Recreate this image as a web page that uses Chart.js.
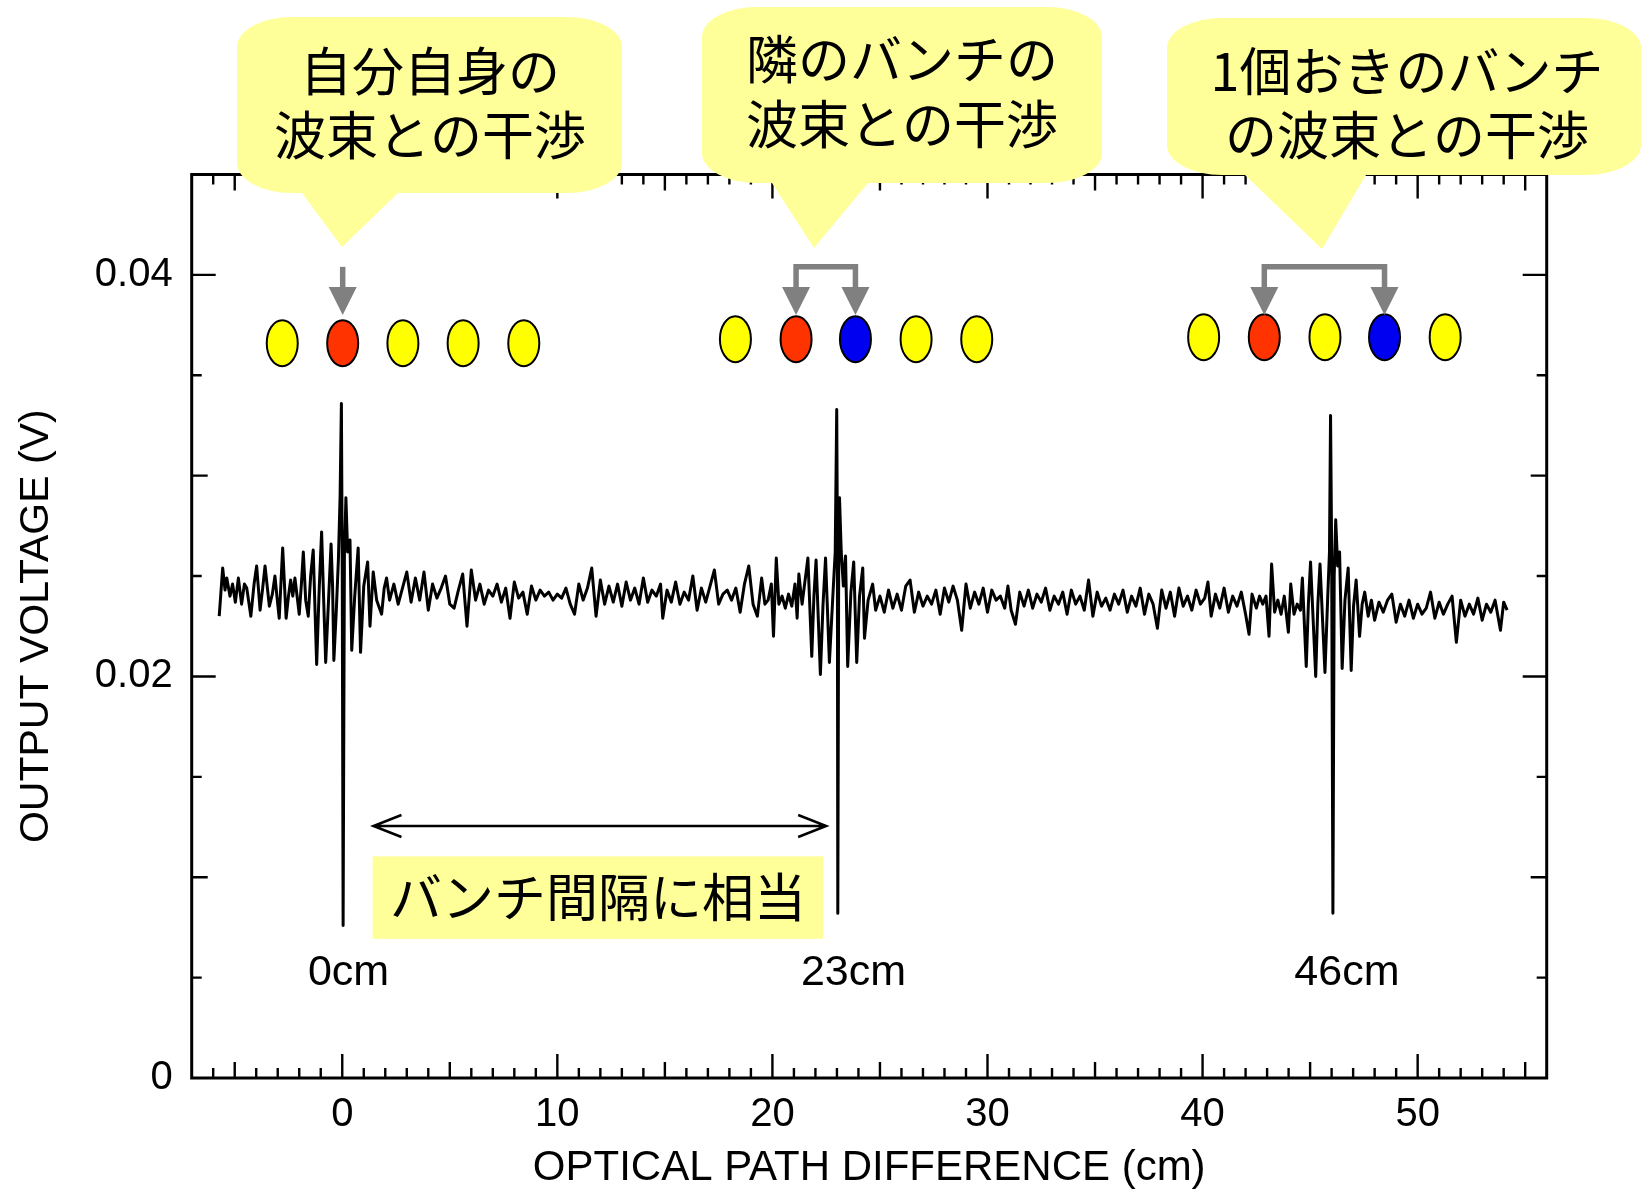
<!DOCTYPE html>
<html><head><meta charset="utf-8">
<script src="https://cdn.jsdelivr.net/npm/chart.js@4.4.1/dist/chart.umd.min.js"></script>
<style>html,body{margin:0;padding:0;background:#fff;}#wrap{width:1641px;height:1193px;}</style>
</head><body><div id="wrap"><canvas id="c" width="1641" height="1193"></canvas></div>
<script>
// ---- data ----
const opdCm = [
-5.72,-5.56,-5.45,-5.37,-5.22,-5.10,-4.97,-4.83,-4.68,-4.55,
-4.44,-4.25,-4.10,-3.98,-3.82,-3.70,-3.59,-3.39,-3.25,-3.13,
-3.02,-2.93,-2.77,-2.61,-2.50,-2.40,-2.30,-2.20,-2.00,-1.90,
-1.81,-1.70,-1.58,-1.47,-1.35,-1.19,-1.07,-0.96,-0.87,-0.77,
-0.65,-0.52,-0.45,-0.39,-0.28,-0.18,-0.10,-0.04,0.00,0.04,
0.10,0.17,0.25,0.36,0.44,0.58,0.74,0.85,1.00,1.18,
1.29,1.44,1.60,1.83,1.95,2.06,
2.2,2.4,2.6,2.8,3.0,3.2,3.4,3.6,3.8,4.0,
4.2,4.4,4.6,4.8,5.0,5.2,5.4,5.6,5.8,6.0,
6.2,6.4,6.6,6.8,7.0,7.2,7.4,7.6,7.8,8.0,
8.2,8.4,8.6,8.8,9.0,9.2,9.4,9.6,9.8,10.0,
10.2,10.4,10.6,10.8,11.0,11.2,11.4,11.6,11.8,12.0,
12.2,12.4,12.6,12.8,13.0,13.2,13.4,13.6,13.8,14.0,
14.2,14.4,14.6,14.8,14.9,15.1,15.3,15.5,15.7,15.9,
16.1,16.3,16.5,16.7,16.9,17.1,17.3,17.5,17.7,17.9,
18.1,18.3,18.5,18.7,18.9,19.1,19.3,19.5,19.65,
19.80,19.95,20.05,20.18,20.30,20.45,20.60,20.75,20.90,21.05,
21.15,21.23,21.38,21.52,21.65,21.83,21.93,22.03,22.23,22.35,
22.47,22.65,22.80,22.92,22.99,23.02,23.04,23.08,23.12,23.20,
23.30,23.40,23.50,23.65,23.78,23.92,24.05,24.20,24.28,24.45,
24.66,24.80,25.00,
25.2,25.4,25.6,25.8,26.0,26.2,26.4,26.6,26.8,27.0,
27.2,27.4,27.6,27.8,28.0,28.2,28.4,28.6,28.8,29.0,
29.2,29.4,29.6,29.8,30.0,30.2,30.4,30.6,30.8,30.95,
31.1,31.3,31.5,31.7,31.9,32.1,32.3,32.5,32.7,32.9,
33.1,33.3,33.5,33.7,33.9,34.1,34.3,34.5,34.7,34.9,
35.1,35.3,35.5,35.7,35.9,36.1,36.3,36.5,36.7,36.9,
37.1,37.3,37.5,37.7,37.9,38.1,38.3,38.5,38.7,38.9,
39.1,39.3,39.5,39.7,39.9,40.1,40.25,40.4,40.6,40.8,
41.0,41.2,41.4,41.6,41.8,42.0,42.16,42.3,42.5,42.65,
42.80,42.95,43.09,43.21,43.35,43.50,43.65,43.80,43.99,44.10,
44.25,44.40,44.55,44.64,44.82,44.92,45.02,45.26,45.36,45.46,
45.69,45.82,45.90,45.95,46.00,46.06,46.12,46.19,46.28,46.37,
46.49,46.62,46.77,46.91,47.02,47.14,47.30,47.42,47.54,47.70,
47.85,
48.0,48.2,48.4,48.6,48.8,49.0,49.2,49.4,49.6,49.8,
50.0,50.2,50.4,50.6,50.8,51.0,51.2,51.4,51.6,51.8,
52.0,52.2,52.4,52.6,52.8,53.0,53.2,53.4,53.6,53.85,
54.0,54.16
];
const outputVoltage = [
0.0230,0.0254,0.0243,0.0249,0.0240,0.0246,0.0237,0.0249,0.0236,0.0246,
0.0244,0.0230,0.0246,0.0255,0.0233,0.0244,0.0255,0.0235,0.0241,0.0250,
0.0238,0.0229,0.0264,0.0229,0.0240,0.0248,0.0240,0.0249,0.0231,0.0246,
0.0262,0.0238,0.0230,0.0250,0.0263,0.0206,0.0244,0.0272,0.0240,0.0207,
0.0235,0.0266,0.0245,0.0208,0.0232,0.0258,0.0290,0.0336,0.0250,0.0076,
0.0260,0.0289,0.0262,0.0268,0.0213,0.0240,0.0264,0.0212,0.0245,0.0257,
0.0225,0.0252,0.0238,0.0231,0.0244,0.0249,
0.0238,0.0246,0.0236,0.0244,0.0252,0.0237,0.0249,0.0238,0.0252,0.0233,
0.0246,0.0239,0.0244,0.0250,0.0236,0.0234,0.0243,0.0251,0.0225,0.0253,
0.0238,0.0246,0.0236,0.0243,0.0240,0.0246,0.0237,0.0244,0.0229,0.0247,
0.0239,0.0242,0.0231,0.0245,0.0238,0.0243,0.0240,0.0242,0.0238,0.0241,
0.0239,0.0244,0.0236,0.0231,0.0246,0.0238,0.0244,0.0254,0.0230,0.0248,
0.0236,0.0245,0.0237,0.0246,0.0235,0.0247,0.0238,0.0244,0.0236,0.0249,
0.0237,0.0243,0.0240,0.0246,0.0229,0.0243,0.0237,0.0247,0.0236,0.0242,
0.0238,0.0250,0.0233,0.0244,0.0237,0.0245,0.0253,0.0236,0.0241,0.0243,
0.0238,0.0244,0.0232,0.0246,0.0255,0.0236,0.0230,0.0249,0.0236,
0.0238,0.0246,0.0220,0.0259,0.0236,0.0240,0.0234,0.0241,0.0235,0.0246,
0.0229,0.0251,0.0236,0.0248,0.0259,0.0210,0.0240,0.0258,0.0201,0.0235,
0.0259,0.0207,0.0238,0.0262,0.0333,0.0270,0.0082,0.0250,0.0289,0.0262,
0.0245,0.0260,0.0205,0.0242,0.0257,0.0207,0.0240,0.0254,0.0219,0.0238,
0.0246,0.0233,0.0240,
0.0232,0.0243,0.0234,0.0241,0.0233,0.0245,0.0248,0.0232,0.0242,0.0235,
0.0240,0.0236,0.0243,0.0231,0.0244,0.0237,0.0245,0.0238,0.0223,0.0246,
0.0234,0.0242,0.0236,0.0244,0.0232,0.0243,0.0238,0.0240,0.0234,0.0245,
0.0233,0.0226,0.0242,0.0235,0.0243,0.0234,0.0241,0.0237,0.0244,0.0233,
0.0240,0.0236,0.0242,0.0231,0.0243,0.0236,0.0240,0.0233,0.0248,0.0230,
0.0242,0.0235,0.0239,0.0233,0.0241,0.0236,0.0243,0.0232,0.0240,0.0235,
0.0244,0.0231,0.0241,0.0236,0.0224,0.0243,0.0234,0.0242,0.0230,0.0244,
0.0235,0.0240,0.0233,0.0243,0.0236,0.0239,0.0247,0.0230,0.0241,0.0234,
0.0244,0.0232,0.0240,0.0235,0.0242,0.0231,0.0221,0.0241,0.0234,0.0240,
0.0236,0.0240,0.0220,0.0256,0.0232,0.0238,0.0231,0.0240,0.0222,0.0246,
0.0231,0.0236,0.0233,0.0249,0.0205,0.0236,0.0257,0.0200,0.0236,0.0256,
0.0202,0.0240,0.0262,0.0330,0.0265,0.0082,0.0250,0.0278,0.0255,0.0262,
0.0204,0.0238,0.0254,0.0203,0.0235,0.0248,0.0220,0.0236,0.0242,0.0230,
0.0238,
0.0228,0.0237,0.0232,0.0238,0.0241,0.0227,0.0236,0.0230,0.0238,0.0229,
0.0236,0.0231,0.0234,0.0242,0.0229,0.0237,0.0231,0.0236,0.0240,0.0217,
0.0238,0.0230,0.0236,0.0231,0.0239,0.0228,0.0236,0.0232,0.0238,0.0223,
0.0237,0.0233
];
const xTickValues = [0, 10, 20, 30, 40, 50];
const xTickLabels = ['0', '10', '20', '30', '40', '50'];
const yTickValues = [0, 0.02, 0.04];
const yTickLabels = ['0', '0.02', '0.04'];
const xAxisTitle = 'OPTICAL PATH DIFFERENCE (cm)';
const yAxisTitle = 'OUTPUT VOLTAGE (V)';
const peakLabels = ['0cm', '23cm', '46cm'];
const peakLabelOpd = [0.29, 23.77, 46.71];
const bubbleTexts = [['自分自身の', '波束との干渉'], ['隣のバンチの', '波束との干渉'], ['1個おきのバンチ', 'の波束との干渉']];
const spacingText = 'バンチ間隔に相当';

// ---- styling / annotation geometry ----
const SANS = '"Liberation Sans", Arial, Helvetica, sans-serif';
const CJK = '"Noto Sans CJK JP", "Noto Sans CJK SC", sans-serif';
const YEL = '#FFFF00', RED = '#FF3300', BLU = '#0000F0';
const bunchRows = [
  {y: 0.0366, xs: [-2.79, 0.02, 2.82, 5.62, 8.44], cols: [YEL, RED, YEL, YEL, YEL]},
  {y: 0.0368, xs: [18.28, 21.10, 23.86, 26.68, 29.50], cols: [YEL, RED, BLU, YEL, YEL]},
  {y: 0.0369, xs: [40.05, 42.87, 45.69, 48.46, 51.28], cols: [YEL, RED, YEL, BLU, YEL]}
];
const bubbles = [
  {l: 237, r: 622, t: 17, b: 193, pl: 302, pr: 398, tx: 342, ty: 247, cx: 430, ly: [71, 135]},
  {l: 702, r: 1102, t: 7, b: 183, pl: 772, pr: 868, tx: 814, ty: 248, cx: 902, ly: [59, 124]},
  {l: 1167, r: 1641, t: 18, b: 175, pl: 1245, pr: 1366, tx: 1322, ty: 249, cx: 1407, ly: [71, 135]}
];

const deco = {
  id: 'deco',
  afterDatasetsDraw(chart) {
    const {ctx, chartArea: a, scales: {x, y}} = chart;
    const px = v => x.getPixelForValue(v), py = v => y.getPixelForValue(v);
    ctx.save();
    ctx.strokeStyle = '#000';
    ctx.lineWidth = 3;
    ctx.strokeRect(a.left, a.top, a.right - a.left, a.bottom - a.top);
    ctx.lineWidth = 2.4;
    ctx.beginPath();
    for (let v = Math.ceil(x.min + 1e-9); v < x.max - 1e-9; v++) {
      const len = (v % 10 === 0) ? 24 : (v % 5 === 0) ? 16 : 10;
      const p = px(v);
      ctx.moveTo(p, a.bottom); ctx.lineTo(p, a.bottom - len);
      ctx.moveTo(p, a.top); ctx.lineTo(p, a.top + len);
    }
    for (let k = 1; k * 0.005 < y.max - 1e-9; k++) {
      const len = (k % 4 === 0) ? 24 : (k % 2 === 0) ? 16 : 10;
      const p = py(k * 0.005);
      ctx.moveTo(a.left, p); ctx.lineTo(a.left + len, p);
      ctx.moveTo(a.right, p); ctx.lineTo(a.right - len, p);
    }
    ctx.stroke();

    ctx.lineWidth = 2;
    bunchRows.forEach(row => {
      row.xs.forEach((xv, i) => {
        ctx.beginPath();
        ctx.ellipse(px(xv), py(row.y), 15.5, 23, 0, 0, Math.PI * 2);
        ctx.fillStyle = row.cols[i];
        ctx.fill();
        ctx.strokeStyle = '#000';
        ctx.stroke();
      });
    });

    const G = '#808080';
    const yTop = py(0.0404), yBase = py(0.0394), yTip = py(0.0380);
    function head(xp) {
      ctx.beginPath();
      ctx.moveTo(xp - 14, yBase); ctx.lineTo(xp + 14, yBase); ctx.lineTo(xp, yTip);
      ctx.closePath(); ctx.fillStyle = G; ctx.fill();
    }
    ctx.strokeStyle = G; ctx.lineWidth = 5.5; ctx.lineJoin = 'miter';
    ctx.beginPath(); ctx.moveTo(px(0.02), yTop); ctx.lineTo(px(0.02), yBase + 1); ctx.stroke();
    head(px(0.02));
    [[21.10, 23.86], [42.87, 48.46]].forEach(([a1, a2]) => {
      ctx.beginPath();
      ctx.moveTo(px(a1), yBase + 1); ctx.lineTo(px(a1), yTop); ctx.lineTo(px(a2), yTop); ctx.lineTo(px(a2), yBase + 1);
      ctx.stroke();
      head(px(a1)); head(px(a2));
    });

    const ax1 = px(1.45), ax2 = px(22.5), ay = py(0.01255);
    ctx.strokeStyle = '#000'; ctx.lineWidth = 2.5; ctx.lineJoin = 'miter';
    ctx.beginPath();
    ctx.moveTo(ax1, ay); ctx.lineTo(ax2, ay);
    ctx.moveTo(ax1 + 28, ay - 11); ctx.lineTo(ax1, ay); ctx.lineTo(ax1 + 28, ay + 11);
    ctx.moveTo(ax2 - 28, ay - 11); ctx.lineTo(ax2, ay); ctx.lineTo(ax2 - 28, ay + 11);
    ctx.stroke();

    const bx1 = px(1.41), bx2 = px(22.36), by1 = py(0.01104), by2 = py(0.00693);
    ctx.fillStyle = '#FFFF99';
    ctx.fillRect(bx1, by1, bx2 - bx1, by2 - by1);
    ctx.fillStyle = '#000';
    ctx.font = '52px ' + CJK;
    ctx.textAlign = 'center'; ctx.textBaseline = 'middle';
    ctx.fillText(spacingText, (bx1 + bx2) / 2, (by1 + by2) / 2);

    ctx.font = '43px ' + SANS;
    peakLabels.forEach((t, i) => ctx.fillText(t, px(peakLabelOpd[i]), py(0.00522)));

    const rx = 55, ry = 30;
    bubbles.forEach((B, i) => {
      ctx.beginPath();
      ctx.moveTo(B.l + rx, B.t);
      ctx.lineTo(B.r - rx, B.t);
      ctx.ellipse(B.r - rx, B.t + ry, rx, ry, 0, -Math.PI / 2, 0);
      ctx.lineTo(B.r, B.b - ry);
      ctx.ellipse(B.r - rx, B.b - ry, rx, ry, 0, 0, Math.PI / 2);
      ctx.lineTo(B.pr, B.b);
      ctx.lineTo(B.tx, B.ty);
      ctx.lineTo(B.pl, B.b);
      ctx.lineTo(B.l + rx, B.b);
      ctx.ellipse(B.l + rx, B.b - ry, rx, ry, 0, Math.PI / 2, Math.PI);
      ctx.lineTo(B.l, B.t + ry);
      ctx.ellipse(B.l + rx, B.t + ry, rx, ry, 0, Math.PI, Math.PI * 1.5);
      ctx.closePath();
      ctx.fillStyle = '#FFFF99';
      ctx.fill();
      ctx.fillStyle = '#000';
      ctx.font = '52px ' + CJK;
      ctx.textAlign = 'center'; ctx.textBaseline = 'middle';
      bubbleTexts[i].forEach((line, j) => ctx.fillText(line, B.cx, B.ly[j]));
    });
    ctx.restore();
  }
};

const n = Math.min(opdCm.length, outputVoltage.length);
const points = [];
for (let i = 0; i < n; i++) points.push({x: opdCm[i], y: outputVoltage[i]});

new Chart(document.getElementById('c'), {
  type: 'line',
  data: {datasets: [{data: points, borderColor: '#000', borderWidth: 3, pointRadius: 0, tension: 0, fill: false, borderJoinStyle: 'round'}]},
  options: {
    responsive: false, animation: false, devicePixelRatio: 1,
    layout: {padding: {left: 0, top: 174.5, right: 94.3, bottom: 0}},
    plugins: {legend: {display: false}, tooltip: {enabled: false}},
    scales: {
      x: {
        type: 'linear', min: -7, max: 56,
        afterBuildTicks: s => { s.ticks = xTickValues.map(v => ({value: v})); },
        afterFit: s => { s.height = 115; },
        grid: {display: false, drawTicks: false}, border: {display: false},
        ticks: {padding: 13, color: '#000', autoSkip: false, maxRotation: 0, font: {family: SANS, size: 40},
          callback: v => { const i = xTickValues.indexOf(v); return i >= 0 ? xTickLabels[i] : ''; }},
        title: {display: true, text: xAxisTitle, color: '#000', font: {family: SANS, size: 42, lineHeight: 1.15}, padding: 0}
      },
      y: {
        type: 'linear', min: 0, max: 0.045,
        afterBuildTicks: s => { s.ticks = yTickValues.map(v => ({value: v})); },
        afterFit: s => { s.width = 191.7; },
        grid: {display: false, drawTicks: false}, border: {display: false},
        ticks: {padding: 19, color: '#000', autoSkip: false, font: {family: SANS, size: 40},
          callback: v => { const i = yTickValues.indexOf(v); return i >= 0 ? yTickLabels[i] : ''; }},
        title: {display: true, text: yAxisTitle, color: '#000', font: {family: SANS, size: 41}, padding: {top: 12, bottom: 0}}
      }
    }
  },
  plugins: [deco]
});
</script>
</body></html>
